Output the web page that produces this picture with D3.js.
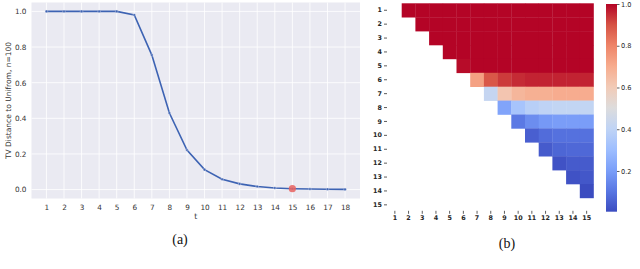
<!DOCTYPE html>
<html>
<head>
<meta charset="utf-8">
<script src="https://cdn.jsdelivr.net/npm/d3@7"></script>
<style>
  body { margin: 0; background: #fff; }
  svg { display: block; font-family: "DejaVu Sans", sans-serif; }
</style>
</head>
<body>
<div id="chart"></div>
<script>
// ---- data (a): TV distance vs t ----
var tValues = [1, 2, 3, 4, 5, 6, 7, 8, 9, 10, 11, 12, 13, 14, 15, 16, 17, 18];
var tvDist = [1.0, 1.0, 1.0, 1.0, 1.0, 0.98, 0.755, 0.43, 0.222, 0.112, 0.058, 0.032, 0.017, 0.009, 0.005, 0.003, 0.002, 0.001];
var highlightT = 15;
var yTicksA = [0.0, 0.2, 0.4, 0.6, 0.8, 1.0];

// ---- data (b): heatmap, row i holds columns i+1..15 ----
var heatRows = [1, 2, 3, 4, 5, 6, 7, 8, 9, 10, 11, 12, 13, 14, 15];
var heatCols = [1, 2, 3, 4, 5, 6, 7, 8, 9, 10, 11, 12, 13, 14, 15];
var heatValues = [
  [1.0, 1.0, 1.0, 1.0, 1.0, 1.0, 1.0, 1.0, 1.0, 1.0, 1.0, 1.0, 1.0, 1.0],
  [1.0, 1.0, 1.0, 1.0, 1.0, 1.0, 1.0, 1.0, 1.0, 1.0, 1.0, 1.0, 1.0],
  [1.0, 1.0, 1.0, 1.0, 1.0, 1.0, 1.0, 1.0, 1.0, 1.0, 1.0, 1.0],
  [1.0, 1.0, 1.0, 1.0, 1.0, 1.0, 1.0, 1.0, 1.0, 1.0, 1.0],
  [0.99, 1.0, 1.0, 1.0, 1.0, 1.0, 1.0, 1.0, 1.0, 1.0],
  [0.73, 0.89, 0.93, 0.95, 0.96, 0.96, 0.96, 0.96, 0.96],
  [0.42, 0.62, 0.67, 0.69, 0.69, 0.70, 0.70, 0.70],
  [0.22, 0.33, 0.38, 0.40, 0.41, 0.41, 0.41],
  [0.11, 0.16, 0.19, 0.20, 0.20, 0.20],
  [0.05, 0.08, 0.09, 0.09, 0.09],
  [0.04, 0.065, 0.07, 0.07],
  [0.02, 0.04, 0.04],
  [0.02, 0.03],
  [0.005],
  []
];
var cbarTicks = [0.2, 0.4, 0.6, 0.8, 1.0];

// coolwarm sampled at 0, 0.1, ... 1.0
var coolwarm = ["#3b4cc0", "#5977e3", "#7b9ff9", "#9ebeff", "#c0d4f5", "#dddcdc",
                "#f2cbb7", "#f7ac8e", "#ee8468", "#d65244", "#b40426"];

var width = 640, height = 269;
var svg = d3.select("#chart").append("svg")
    .attr("width", width)
    .attr("height", height);

// ================= panel (a) =================
var pa = { left: 31.5, right: 360, top: 2.5, bottom: 198.5 };
var x = d3.scaleLinear().domain([0.15, 18.85]).range([pa.left, pa.right]);
var y = d3.scaleLinear().domain([-0.05, 1.05]).range([pa.bottom, pa.top]);

svg.append("rect")
    .attr("x", pa.left).attr("y", pa.top)
    .attr("width", pa.right - pa.left).attr("height", pa.bottom - pa.top)
    .attr("fill", "#eaeaf2");

var grid = svg.append("g").attr("stroke", "#fff").attr("stroke-width", 0.8);
grid.selectAll("line.gx").data(tValues).enter().append("line")
    .attr("x1", d => x(d)).attr("x2", d => x(d))
    .attr("y1", pa.top).attr("y2", pa.bottom);
grid.selectAll("line.gy").data(yTicksA).enter().append("line")
    .attr("x1", pa.left).attr("x2", pa.right)
    .attr("y1", d => y(d)).attr("y2", d => y(d));

var xAxis = svg.append("g")
    .attr("transform", "translate(0," + pa.bottom + ")")
    .call(d3.axisBottom(x).tickValues(tValues).tickSize(0).tickPadding(6));
var yAxis = svg.append("g")
    .attr("transform", "translate(" + pa.left + ",0)")
    .call(d3.axisLeft(y).tickValues(yTicksA).tickFormat(d3.format(".1f")).tickSize(0).tickPadding(5));
[xAxis, yAxis].forEach(function(ax) {
    ax.select(".domain").remove();
    ax.selectAll("text").attr("font-size", 7.3).attr("fill", "#333")
        .attr("font-family", "DejaVu Sans");
});

svg.append("text")
    .attr("x", (pa.left + pa.right) / 2).attr("y", 219)
    .attr("text-anchor", "middle").attr("font-size", 7.8).attr("fill", "#333")
    .text("t");
svg.append("text")
    .attr("transform", "translate(11," + ((pa.top + pa.bottom) / 2) + ") rotate(-90)")
    .attr("text-anchor", "middle").attr("font-size", 7.5).attr("fill", "#333")
    .text("TV Distance to Unifrom, n=100");

var pts = tValues.map((t, i) => [t, tvDist[i]]);
svg.append("path")
    .datum(pts)
    .attr("fill", "none")
    .attr("stroke", "#3d63b3")
    .attr("stroke-width", 1.6)
    .attr("d", d3.line().x(d => x(d[0])).y(d => y(d[1])));
svg.selectAll("circle.pt").data(pts).enter().append("circle")
    .attr("cx", d => x(d[0])).attr("cy", d => y(d[1]))
    .attr("r", 1.3)
    .attr("fill", "#3d63b3")
    .attr("stroke", "#eaeaf2").attr("stroke-width", 0.4);
svg.append("circle")
    .attr("cx", x(highlightT)).attr("cy", y(tvDist[tValues.indexOf(highlightT)]))
    .attr("r", 3.6)
    .attr("fill", "#e8615f").attr("fill-opacity", 0.85);

// ================= panel (b) =================
var pb = { left: 388, right: 593.5, top: 3.3, bottom: 211.8 };
var hx = d3.scaleBand().domain(heatCols).range([pb.left, pb.right]);
var hy = d3.scaleBand().domain(heatRows).range([pb.top, pb.bottom]);

var allVals = d3.merge(heatValues);
var vExt = d3.extent(allVals);
var color = d3.scaleLinear()
    .domain(coolwarm.map((c, i) => vExt[0] + (vExt[1] - vExt[0]) * i / 10))
    .range(coolwarm)
    .interpolate(d3.interpolateRgb)
    .clamp(true);

var cells = [];
heatValues.forEach(function(row, ri) {
    row.forEach(function(v, k) {
        cells.push({ r: heatRows[ri], c: heatCols[ri + 1 + k], v: v });
    });
});
svg.append("g").selectAll("rect").data(cells).enter().append("rect")
    .attr("x", d => hx(d.c)).attr("y", d => hy(d.r))
    .attr("width", hx.bandwidth() + 0.3).attr("height", hy.bandwidth() + 0.3)
    .attr("fill", d => color(d.v));

var hxAxis = svg.append("g")
    .attr("transform", "translate(0," + (pb.bottom - 1) + ")")
    .call(d3.axisBottom(hx).tickSize(3).tickPadding(2));
var hyAxis = svg.append("g")
    .attr("transform", "translate(" + (pb.left - 1) + ",0)")
    .call(d3.axisLeft(hy).tickSize(3).tickPadding(2));
[hxAxis, hyAxis].forEach(function(ax) {
    ax.select(".domain").remove();
    ax.selectAll("line").attr("stroke", "#333").attr("stroke-width", 0.8);
    ax.selectAll("text").attr("font-size", 6.4).attr("fill", "#262626")
        .attr("font-weight", "bold").attr("font-family", "DejaVu Sans");
});

// colorbar
var cb = { left: 606, right: 617, top: 4, bottom: 211.7 };
var cy = d3.scaleLinear().domain(vExt).range([cb.bottom, cb.top]);
var defs = svg.append("defs");
var grad = defs.append("linearGradient").attr("id", "cbgrad")
    .attr("x1", 0).attr("y1", 1).attr("x2", 0).attr("y2", 0);
grad.selectAll("stop").data(coolwarm).enter().append("stop")
    .attr("offset", (d, i) => (i * 10) + "%")
    .attr("stop-color", d => d);
svg.append("rect")
    .attr("x", cb.left).attr("y", cb.top)
    .attr("width", cb.right - cb.left).attr("height", cb.bottom - cb.top)
    .attr("fill", "url(#cbgrad)");
var cbAxis = svg.append("g")
    .attr("transform", "translate(" + cb.right + ",0)")
    .call(d3.axisRight(cy).tickValues(cbarTicks).tickFormat(d3.format(".1f")).tickSize(2.5).tickPadding(1.5));
cbAxis.select(".domain").remove();
cbAxis.selectAll("line").attr("stroke", "#333").attr("stroke-width", 0.8);
cbAxis.selectAll("text").attr("font-size", 6.6).attr("fill", "#262626")
    .attr("font-family", "DejaVu Sans");

// ---- sub-captions ----
svg.append("text")
    .attr("x", 180).attr("y", 244)
    .attr("text-anchor", "middle")
    .attr("font-family", "Liberation Serif, serif").attr("font-size", 14).attr("fill", "#111")
    .text("(a)");
svg.append("text")
    .attr("x", 507).attr("y", 248)
    .attr("text-anchor", "middle")
    .attr("font-family", "Liberation Serif, serif").attr("font-size", 14).attr("fill", "#111")
    .text("(b)");
svg.append("text")
    .attr("x", 0).attr("y", 280)
    .attr("font-family", "Liberation Serif, serif").attr("font-size", 14).attr("fill", "#888")
    .text("Figure 4: (a) Trend of d(t) when n = 100. We observe T = 15. (b) Trend of d(t) for different n.");
</script>
</body>
</html>
